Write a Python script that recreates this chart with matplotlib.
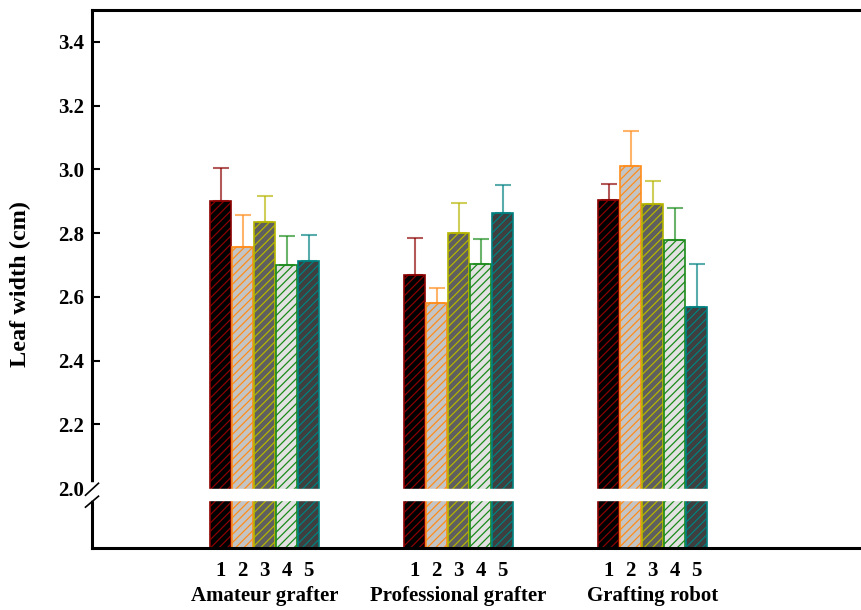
import matplotlib
matplotlib.use("Agg")
import matplotlib.pyplot as plt
import numpy as np

groups = ["Amateur grafter", "Professional grafter", "Grafting robot"]
bar_labels = ["1", "2", "3", "4", "5"]
values = [
    [2.90, 2.758, 2.835, 2.70, 2.712],
    [2.669, 2.58, 2.802, 2.702, 2.862],
    [2.903, 3.011, 2.89, 2.779, 2.569],
]
errors = [
    [0.105, 0.10, 0.083, 0.09, 0.081],
    [0.116, 0.049, 0.094, 0.08, 0.089],
    [0.05, 0.108, 0.073, 0.099, 0.133],
]
yticks = [2.0, 2.2, 2.4, 2.6, 2.8, 3.0, 3.2, 3.4]

face_colors = ["#000000", "#c4c4c4", "#5f5f5f", "#e2e2e2", "#3f3f3f"]
edge_colors = ["#8b0000", "#ff8c1a", "#b5b500", "#1a8a1a", "#008080"]

plt.rcParams["font.family"] = ["Liberation Serif", "DejaVu Serif"]
plt.rcParams["hatch.linewidth"] = 0.9

fig = plt.figure(figsize=(8.61, 6.10), dpi=100)
ax = fig.add_axes([92/861, 1-548/610, 1-92/861, (548-10)/610])

ymin, ymax = 1.8125, 3.5
spacing = 22/194
width = 20.5/194
group_x = np.arange(len(groups))

xt, xl = [], []
for g in range(len(groups)):
    for i in range(5):
        x = group_x[g] + (i - 2) * spacing
        v = values[g][i]
        ax.bar(x, v - ymin, bottom=ymin, width=width, color=face_colors[i],
               edgecolor=edge_colors[i], hatch="////", linewidth=1.2, zorder=2)
        ax.errorbar(x, v, yerr=[[0], [errors[g][i]]], fmt="none",
                    ecolor=edge_colors[i], alpha=0.65, elinewidth=1.5,
                    capsize=6, capthick=1.5, zorder=3)
        xt.append(x)
        xl.append(bar_labels[i])

ax.set_xlim(-172.5/194, (861-264.5)/194)
ax.set_ylim(ymin, ymax)

# break band
ax.axhspan(1.9625, 1.997, color="white", zorder=4)

ax.set_xticks(xt)
ax.set_xticklabels(xl, fontsize=15, fontweight="bold")
ax.tick_params(axis="x", length=0, pad=9)
ax.set_yticks(yticks)
ax.set_yticklabels([f"{t:.1f}" for t in yticks], fontsize=15, fontweight="bold")
ax.tick_params(axis="y", direction="in", length=6, width=1.5, pad=6)
ax.yaxis.get_major_ticks()[0].tick1line.set_visible(False)

for g, name in enumerate(groups):
    ax.text(group_x[g], -0.0895, name, transform=ax.get_xaxis_transform(),
            ha="center", va="center", fontsize=15, fontweight="bold")

ax.set_ylabel("Leaf width (cm)", fontsize=17.5, fontweight="bold")
ax.yaxis.set_label_coords(-(92-31)/769, (548-284)/538)

for s in ["left", "top", "bottom"]:
    ax.spines[s].set_linewidth(2.2)
ax.spines["right"].set_visible(False)

# spine break
tr = ax.get_yaxis_transform()
ax.plot([0, 0], [1.969, 2.009], transform=tr, color="white", lw=4,
        clip_on=False, zorder=10)
dx = 6.5/769
ax.plot([-dx, dx], [1.978, 2.0156], transform=tr, color="black", lw=1.2,
        clip_on=False, zorder=11)
ax.plot([-dx, dx], [1.9406, 1.975], transform=tr, color="black", lw=1.2,
        clip_on=False, zorder=11)

fig.savefig("out.png", dpi=100)
